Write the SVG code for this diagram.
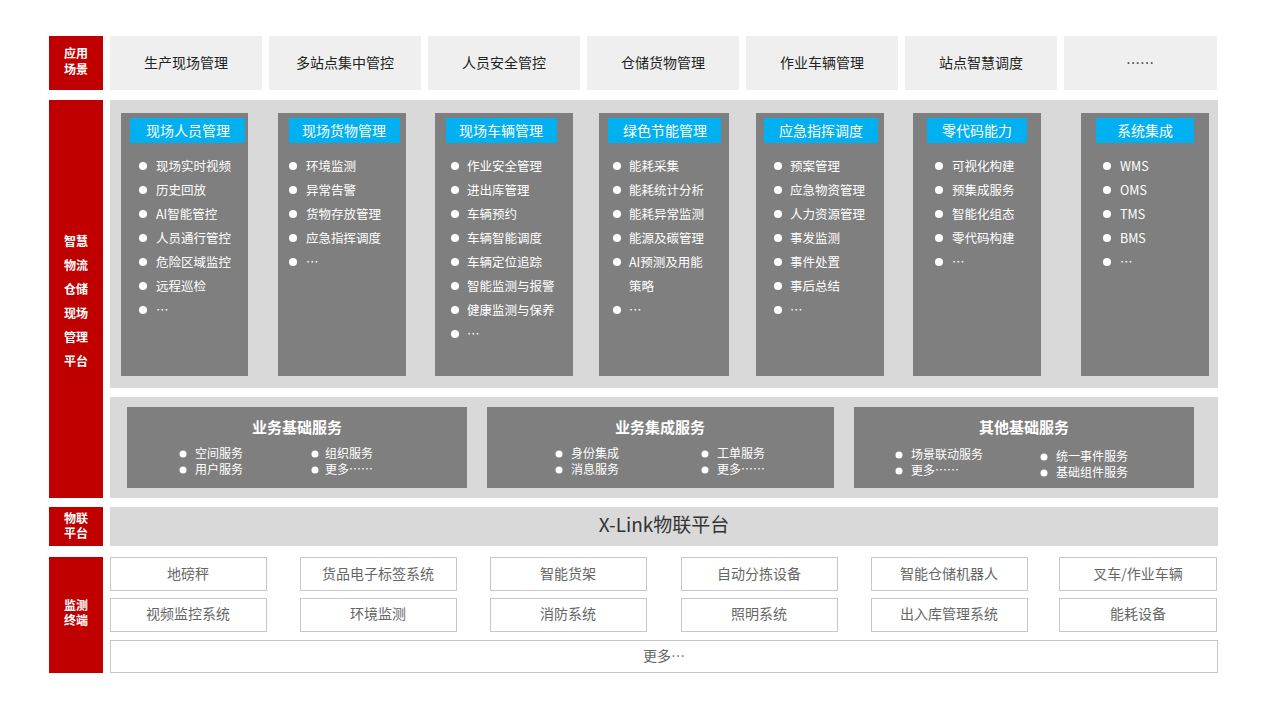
<svg xmlns="http://www.w3.org/2000/svg" width="1280" height="720" viewBox="0 0 1280 720">
<style>
text{font-family:"Noto Sans CJK SC","Liberation Sans",sans-serif}
.red{fill:#c00000}
.rl{fill:#fff;font-size:12px;font-weight:bold;text-anchor:middle}
.app{fill:#efefef}
.at{fill:#222;font-size:14px;text-anchor:middle}
.col{fill:#7f7f7f}
.hd{fill:#00b0f0}
.ht{fill:#fff;font-size:14px;text-anchor:middle}
.it{fill:#fff;font-size:12.5px}
.dot{fill:#fff}
.bg{fill:#d9d9d9}
.st{fill:#fff;font-size:15px;font-weight:bold;text-anchor:middle}
.si{fill:#fff;font-size:12px}
.term{fill:#fff;stroke:#c8c8c8;stroke-width:1}
.tt{fill:#666;font-size:14px;text-anchor:middle}
</style>
<rect width="1280" height="720" fill="#fff"/>
<g id="labels">
<rect class="red" x="49" y="36" width="54" height="54"/><text class="rl" x="76" y="58">应用</text><text class="rl" x="76" y="74">场景</text>
<rect class="red" x="49" y="100" width="54" height="398"/>
<text class="rl" x="76" y="246">智慧</text><text class="rl" x="76" y="270">物流</text><text class="rl" x="76" y="294">仓储</text><text class="rl" x="76" y="318">现场</text><text class="rl" x="76" y="342">管理</text><text class="rl" x="76" y="366">平台</text>
<rect class="red" x="49" y="507" width="54" height="39"/><text class="rl" x="76" y="523">物联</text><text class="rl" x="76" y="538">平台</text>
<rect class="red" x="49" y="557" width="54" height="116"/><text class="rl" x="76" y="610">监测</text><text class="rl" x="76" y="625">终端</text>
</g>
<g id="apps">
<rect class="app" x="110" y="36" width="152" height="54"/><text class="at" x="186" y="68">生产现场管理</text>
<rect class="app" x="269" y="36" width="152" height="54"/><text class="at" x="345" y="68">多站点集中管控</text>
<rect class="app" x="428" y="36" width="152" height="54"/><text class="at" x="504" y="68">人员安全管控</text>
<rect class="app" x="587" y="36" width="152" height="54"/><text class="at" x="663" y="68">仓储货物管理</text>
<rect class="app" x="746" y="36" width="152" height="54"/><text class="at" x="822" y="68">作业车辆管理</text>
<rect class="app" x="905" y="36" width="152" height="54"/><text class="at" x="981" y="68">站点智慧调度</text>
<rect class="app" x="1064" y="36" width="153" height="54"/><text class="at" x="1140" y="68">……</text>
</g>
<rect class="bg" x="110" y="100" width="1108" height="288"/>
<g id="col1"><rect class="col" x="121" y="113" width="127" height="263"/><rect class="hd" x="130" y="118" width="115" height="25"/><text class="ht" x="188" y="136">现场人员管理</text>
<g class="dot"><circle cx="143" cy="166" r="4"/><circle cx="143" cy="190" r="4"/><circle cx="143" cy="214" r="4"/><circle cx="143" cy="238" r="4"/><circle cx="143" cy="262" r="4"/><circle cx="143" cy="286" r="4"/><circle cx="143" cy="310" r="4"/></g>
<text class="it" x="156" y="171">现场实时视频</text><text class="it" x="156" y="195">历史回放</text><text class="it" x="156" y="219">AI智能管控</text><text class="it" x="156" y="243">人员通行管控</text><text class="it" x="156" y="267">危险区域监控</text><text class="it" x="156" y="291">远程巡检</text><text class="it" x="156" y="315">…</text></g>
<g id="col2"><rect class="col" x="278" y="113" width="128" height="263"/><rect class="hd" x="289" y="118" width="111" height="25"/><text class="ht" x="344" y="136">现场货物管理</text>
<g class="dot"><circle cx="293" cy="166" r="4"/><circle cx="293" cy="190" r="4"/><circle cx="293" cy="214" r="4"/><circle cx="293" cy="238" r="4"/><circle cx="293" cy="262" r="4"/></g>
<text class="it" x="306" y="171">环境监测</text><text class="it" x="306" y="195">异常告警</text><text class="it" x="306" y="219">货物存放管理</text><text class="it" x="306" y="243">应急指挥调度</text><text class="it" x="306" y="267">…</text></g>
<g id="col3"><rect class="col" x="435" y="113" width="138" height="263"/><rect class="hd" x="446" y="118" width="111" height="25"/><text class="ht" x="501" y="136">现场车辆管理</text>
<g class="dot"><circle cx="455" cy="166" r="4"/><circle cx="455" cy="190" r="4"/><circle cx="455" cy="214" r="4"/><circle cx="455" cy="238" r="4"/><circle cx="455" cy="262" r="4"/><circle cx="455" cy="286" r="4"/><circle cx="455" cy="310" r="4"/><circle cx="455" cy="334" r="4"/></g>
<text class="it" x="467" y="171">作业安全管理</text><text class="it" x="467" y="195">进出库管理</text><text class="it" x="467" y="219">车辆预约</text><text class="it" x="467" y="243">车辆智能调度</text><text class="it" x="467" y="267">车辆定位追踪</text><text class="it" x="467" y="291">智能监测与报警</text><text class="it" x="467" y="315">健康监测与保养</text><text class="it" x="467" y="339">…</text></g>
<g id="col4"><rect class="col" x="599" y="113" width="130" height="263"/><rect class="hd" x="608" y="118" width="113" height="25"/><text class="ht" x="665" y="136">绿色节能管理</text>
<g class="dot"><circle cx="617" cy="166" r="4"/><circle cx="617" cy="190" r="4"/><circle cx="617" cy="214" r="4"/><circle cx="617" cy="238" r="4"/><circle cx="617" cy="262" r="4"/><circle cx="617" cy="310" r="4"/></g>
<text class="it" x="629" y="171">能耗采集</text><text class="it" x="629" y="195">能耗统计分析</text><text class="it" x="629" y="219">能耗异常监测</text><text class="it" x="629" y="243">能源及碳管理</text><text class="it" x="629" y="267">AI预测及用能</text><text class="it" x="629" y="291">策略</text><text class="it" x="629" y="315">…</text></g>
<g id="col5"><rect class="col" x="756" y="113" width="128" height="263"/><rect class="hd" x="764" y="118" width="114" height="25"/><text class="ht" x="821" y="136">应急指挥调度</text>
<g class="dot"><circle cx="778" cy="166" r="4"/><circle cx="778" cy="190" r="4"/><circle cx="778" cy="214" r="4"/><circle cx="778" cy="238" r="4"/><circle cx="778" cy="262" r="4"/><circle cx="778" cy="286" r="4"/><circle cx="778" cy="310" r="4"/></g>
<text class="it" x="790" y="171">预案管理</text><text class="it" x="790" y="195">应急物资管理</text><text class="it" x="790" y="219">人力资源管理</text><text class="it" x="790" y="243">事发监测</text><text class="it" x="790" y="267">事件处置</text><text class="it" x="790" y="291">事后总结</text><text class="it" x="790" y="315">…</text></g>
<g id="col6"><rect class="col" x="913" y="113" width="128" height="263"/><rect class="hd" x="927" y="118" width="100" height="25"/><text class="ht" x="977" y="136">零代码能力</text>
<g class="dot"><circle cx="939" cy="166" r="4"/><circle cx="939" cy="190" r="4"/><circle cx="939" cy="214" r="4"/><circle cx="939" cy="238" r="4"/><circle cx="939" cy="262" r="4"/></g>
<text class="it" x="952" y="171">可视化构建</text><text class="it" x="952" y="195">预集成服务</text><text class="it" x="952" y="219">智能化组态</text><text class="it" x="952" y="243">零代码构建</text><text class="it" x="952" y="267">…</text></g>
<g id="col7"><rect class="col" x="1081" y="113" width="128" height="263"/><rect class="hd" x="1096" y="118" width="98" height="25"/><text class="ht" x="1145" y="136">系统集成</text>
<g class="dot"><circle cx="1107" cy="166" r="4"/><circle cx="1107" cy="190" r="4"/><circle cx="1107" cy="214" r="4"/><circle cx="1107" cy="238" r="4"/><circle cx="1107" cy="262" r="4"/></g>
<text class="it" x="1120" y="171">WMS</text><text class="it" x="1120" y="195">OMS</text><text class="it" x="1120" y="219">TMS</text><text class="it" x="1120" y="243">BMS</text><text class="it" x="1120" y="267">…</text></g>
<rect class="bg" x="110" y="397" width="1108" height="101"/>
<g id="svc1"><rect class="col" x="127" y="407" width="340" height="81"/><text class="st" x="297" y="433">业务基础服务</text>
<g class="dot"><circle cx="183" cy="454" r="3.5"/><circle cx="183" cy="470" r="3.5"/><circle cx="315" cy="454" r="3.5"/><circle cx="315" cy="470" r="3.5"/></g>
<text class="si" x="195" y="458">空间服务</text><text class="si" x="195" y="474">用户服务</text><text class="si" x="325" y="458">组织服务</text><text class="si" x="325" y="474">更多……</text></g>
<g id="svc2"><rect class="col" x="487" y="407" width="347" height="81"/><text class="st" x="660" y="433">业务集成服务</text>
<g class="dot"><circle cx="559" cy="454" r="3.5"/><circle cx="559" cy="470" r="3.5"/><circle cx="705" cy="454" r="3.5"/><circle cx="705" cy="470" r="3.5"/></g>
<text class="si" x="571" y="458">身份集成</text><text class="si" x="571" y="474">消息服务</text><text class="si" x="717" y="458">工单服务</text><text class="si" x="717" y="474">更多……</text></g>
<g id="svc3"><rect class="col" x="854" y="407" width="340" height="81"/><text class="st" x="1024" y="433">其他基础服务</text>
<g class="dot"><circle cx="899" cy="455" r="3.5"/><circle cx="899" cy="471" r="3.5"/><circle cx="1044" cy="457" r="3.5"/><circle cx="1044" cy="473" r="3.5"/></g>
<text class="si" x="911" y="459">场景联动服务</text><text class="si" x="911" y="475">更多……</text><text class="si" x="1056" y="461">统一事件服务</text><text class="si" x="1056" y="477">基础组件服务</text></g>
<g id="xlink"><rect class="bg" x="110" y="507" width="1108" height="39"/><text x="664" y="532" text-anchor="middle" font-size="19" fill="#333" style="font-family:'Noto Sans CJK SC','Open Sans',sans-serif">X-Link物联平台</text></g>
<g id="terminals">
<rect class="term" x="110.5" y="557.5" width="156" height="33"/><text class="tt" x="188" y="579">地磅秤</text>
<rect class="term" x="300.5" y="557.5" width="156" height="33"/><text class="tt" x="378" y="579">货品电子标签系统</text>
<rect class="term" x="490.5" y="557.5" width="156" height="33"/><text class="tt" x="568" y="579">智能货架</text>
<rect class="term" x="681.5" y="557.5" width="156" height="33"/><text class="tt" x="759" y="579">自动分拣设备</text>
<rect class="term" x="871.5" y="557.5" width="156" height="33"/><text class="tt" x="949" y="579">智能仓储机器人</text>
<rect class="term" x="1059.5" y="557.5" width="157" height="33"/><text class="tt" x="1138" y="579">叉车/作业车辆</text>
<rect class="term" x="110.5" y="598.5" width="156" height="33"/><text class="tt" x="188" y="619">视频监控系统</text>
<rect class="term" x="300.5" y="598.5" width="156" height="33"/><text class="tt" x="378" y="619">环境监测</text>
<rect class="term" x="490.5" y="598.5" width="156" height="33"/><text class="tt" x="568" y="619">消防系统</text>
<rect class="term" x="681.5" y="598.5" width="156" height="33"/><text class="tt" x="759" y="619">照明系统</text>
<rect class="term" x="871.5" y="598.5" width="156" height="33"/><text class="tt" x="949" y="619">出入库管理系统</text>
<rect class="term" x="1059.5" y="598.5" width="157" height="33"/><text class="tt" x="1138" y="619">能耗设备</text>
<rect class="term" x="110.5" y="640.5" width="1107" height="32"/><text class="tt" x="664" y="661">更多…</text>
</g>
</svg>
